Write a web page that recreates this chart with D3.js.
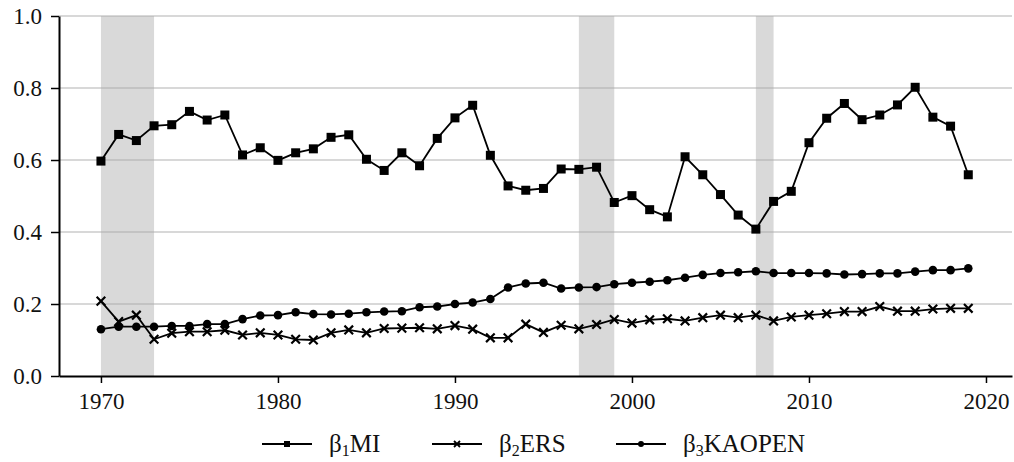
<!DOCTYPE html>
<html>
<head>
<meta charset="utf-8">
<script src="https://cdn.jsdelivr.net/npm/d3@7"></script>
<style>
  body { margin: 0; background: #fff; }
  svg text { font-family: "Liberation Serif", "Times New Roman", Times, serif !important; }
</style>
</head>
<body>
<svg id="chart" width="1014" height="462"></svg>
<script>
// years 1970..2019
let years = d3.range(1970, 2020);

let mi = [0.597, 0.671, 0.654, 0.695, 0.698, 0.735, 0.711, 0.725, 0.614, 0.634,
          0.599, 0.620, 0.631, 0.663, 0.670, 0.602, 0.571, 0.620, 0.584, 0.660,
          0.717, 0.752, 0.613, 0.528, 0.516, 0.521, 0.575, 0.574, 0.580, 0.482,
          0.501, 0.462, 0.442, 0.609, 0.559, 0.504, 0.447, 0.408, 0.485, 0.513,
          0.648, 0.716, 0.757, 0.712, 0.725, 0.753, 0.802, 0.719, 0.694, 0.559];

let ers = [0.208, 0.151, 0.169, 0.102, 0.119, 0.123, 0.123, 0.127, 0.114, 0.120,
           0.114, 0.102, 0.100, 0.120, 0.128, 0.120, 0.132, 0.133, 0.134, 0.131,
           0.140, 0.130, 0.106, 0.106, 0.144, 0.121, 0.141, 0.131, 0.143, 0.157,
           0.147, 0.156, 0.159, 0.153, 0.162, 0.169, 0.162, 0.169, 0.153, 0.164,
           0.169, 0.173, 0.179, 0.179, 0.193, 0.180, 0.180, 0.186, 0.188, 0.188];

let kaopen = [0.130, 0.137, 0.137, 0.137, 0.139, 0.139, 0.144, 0.144, 0.158, 0.168,
              0.169, 0.177, 0.172, 0.171, 0.173, 0.177, 0.179, 0.180, 0.191, 0.193,
              0.200, 0.204, 0.214, 0.246, 0.257, 0.259, 0.243, 0.246, 0.247, 0.255,
              0.259, 0.262, 0.266, 0.273, 0.281, 0.286, 0.288, 0.291, 0.286, 0.286,
              0.286, 0.285, 0.282, 0.283, 0.285, 0.285, 0.290, 0.294, 0.294, 0.299];

// shaded periods [start, end]
let bands = [[1970, 1973], [1997, 1999], [2007, 2008]];

let x_ticks = [1970, 1980, 1990, 2000, 2010, 2020];
let y_ticks = [0, 0.2, 0.4, 0.6, 0.8, 1.0];

let series = [
  {name: 'MI', sub: '1', values: mi, marker: 'square'},
  {name: 'ERS', sub: '2', values: ers, marker: 'cross'},
  {name: 'KAOPEN', sub: '3', values: kaopen, marker: 'circle'}
];

let svg = d3.select('#chart');
let left = 59, right = 1012, top_y = 16, bottom = 376;

let x = d3.scaleLinear().domain([1967.63, 2021.47]).range([left, right]);
let y = d3.scaleLinear().domain([0, 1]).range([bottom, top_y]);

// shaded bands
svg.append('g').selectAll('rect').data(bands).enter().append('rect')
  .attr('x', d => x(d[0])).attr('width', d => x(d[1]) - x(d[0]))
  .attr('y', y(1)).attr('height', y(0) - y(1))
  .attr('fill', '#d9d9d9');

// grid
svg.append('g').selectAll('line').data(y_ticks.filter(d => d > 0)).enter().append('line')
  .attr('x1', left).attr('x2', right)
  .attr('y1', d => y(d)).attr('y2', d => y(d))
  .attr('stroke', '#a8a8a8').attr('stroke-opacity', 0.6).attr('stroke-width', 1.5);

// axes
let xAxis = svg.append('g').attr('transform', 'translate(0,' + bottom + ')')
  .call(d3.axisBottom(x).tickValues(x_ticks).tickFormat(d3.format('d')).tickSize(7).tickPadding(10).tickSizeOuter(0));
let yAxis = svg.append('g').attr('transform', 'translate(' + left + ',0)')
  .call(d3.axisLeft(y).tickValues(y_ticks).tickFormat(d3.format('.1f')).tickSize(8).tickPadding(9).tickSizeOuter(0));

[xAxis, yAxis].forEach(a => {
  a.attr('font-family', null);
  a.select('.domain').attr('stroke', '#000').attr('stroke-width', 2);
  a.selectAll('.tick line').attr('stroke', '#000').attr('stroke-width', 1.5);
  a.selectAll('.tick text').attr('font-size', 23).attr('fill', '#111');
});

let line = d3.line().x((d, i) => x(years[i])).y(d => y(d));

function draw_marker(g, type, cx, cy){
  if(type == 'square'){
    g.append('rect').attr('x', cx - 4.5).attr('y', cy - 4.5).attr('width', 9).attr('height', 9).attr('fill', '#000');
  }else if(type == 'circle'){
    g.append('circle').attr('cx', cx).attr('cy', cy).attr('r', 4.3).attr('fill', '#000');
  }else{
    let s = 4.3;
    g.append('path').attr('d', 'M' + (cx - s) + ',' + (cy - s) + 'L' + (cx + s) + ',' + (cy + s) +
      'M' + (cx - s) + ',' + (cy + s) + 'L' + (cx + s) + ',' + (cy - s))
      .attr('stroke', '#000').attr('stroke-width', 2.2);
  }
}

series.forEach(s => {
  let g = svg.append('g');
  g.append('path').datum(s.values).attr('d', line)
    .attr('fill', 'none').attr('stroke', '#000').attr('stroke-width', 1.8);
  s.values.forEach((v, i) => draw_marker(g, s.marker, x(years[i]), y(v)));
});

// legend
let legend_y = 444;
let legend_x = [262, 432, 616];
series.forEach((s, i) => {
  let g = svg.append('g').attr('transform', 'translate(' + legend_x[i] + ',' + legend_y + ')');
  g.append('line').attr('x1', 0).attr('x2', 50).attr('y1', 0).attr('y2', 0)
    .attr('stroke', '#000').attr('stroke-width', 1.8);
  if(s.marker == 'square'){
    g.append('rect').attr('x', 22).attr('y', -3).attr('width', 6).attr('height', 6).attr('fill', '#000');
  }else if(s.marker == 'circle'){
    g.append('circle').attr('cx', 25).attr('cy', 0).attr('r', 3).attr('fill', '#000');
  }else{
    g.append('path').attr('d', 'M22,-3L28,3M22,3L28,-3').attr('stroke', '#000').attr('stroke-width', 1.8);
  }
  let t = g.append('text').attr('x', 67).attr('y', 8).attr('font-size', 25).attr('fill', '#111');
  t.append('tspan').text('β');
  t.append('tspan').attr('font-size', 16).attr('dy', 4).text(s.sub);
  t.append('tspan').attr('dy', -4).text(s.name);
});
</script>
</body>
</html>
